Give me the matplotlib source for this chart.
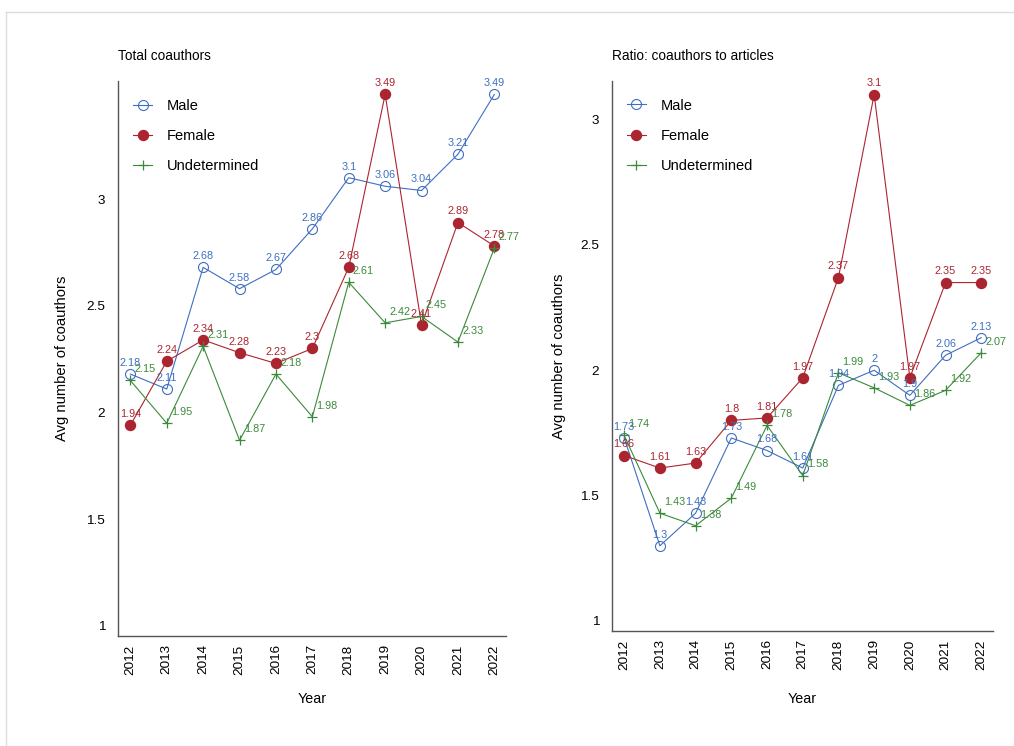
import matplotlib
matplotlib.use("Agg")
import matplotlib.pyplot as plt
from matplotlib.lines import Line2D

plt.rcParams['font.family'] = ['Liberation Sans', 'DejaVu Sans']

years = [2012, 2013, 2014, 2015, 2016, 2017, 2018, 2019, 2020, 2021, 2022]

# Panel 1: Total coauthors
total_male = [2.18, 2.11, 2.68, 2.58, 2.67, 2.86, 3.1, 3.06, 3.04, 3.21, 3.49]
total_female = [1.94, 2.24, 2.34, 2.28, 2.23, 2.3, 2.68, 3.49, 2.41, 2.89, 2.78]
total_undet = [2.15, 1.95, 2.31, 1.87, 2.18, 1.98, 2.61, 2.42, 2.45, 2.33, 2.77]

# Panel 2: Ratio coauthors to articles
ratio_male = [1.73, 1.3, 1.43, 1.73, 1.68, 1.61, 1.94, 2, 1.9, 2.06, 2.13]
ratio_female = [1.66, 1.61, 1.63, 1.8, 1.81, 1.97, 2.37, 3.1, 1.97, 2.35, 2.35]
ratio_undet = [1.74, 1.43, 1.38, 1.49, 1.78, 1.58, 1.99, 1.93, 1.86, 1.92, 2.07]

yticks = [1, 1.5, 2, 2.5, 3]
ytick_labels = ["1", "1.5", "2", "2.5", "3"]
series_names = ["Male", "Female", "Undetermined"]
titles = ["Total coauthors", "Ratio: coauthors to articles"]

C_MALE = '#3e6fc1'
C_FEMALE = '#ab2530'
C_UNDET = '#3b8a3b'

W, H = 1014, 746
fig = plt.figure(figsize=(W / 100, H / 100), dpi=100)
fig.patch.set_facecolor('white')

# faint frame of the screenshot
fig.add_artist(Line2D([6 / W, 1], [1 - 12 / H, 1 - 12 / H], color='#dcdcdc', lw=1))
fig.add_artist(Line2D([6 / W, 6 / W], [0, 1 - 12 / H], color='#dcdcdc', lw=1))


def px_axes(x0, x1, ytop, ybot):
    return fig.add_axes([x0 / W, 1 - ybot / H, (x1 - x0) / W, (ybot - ytop) / H])


ax1 = px_axes(117.6, 506, 81, 636)
ax2 = px_axes(611.7, 992.7, 81, 631)

panels = [
    (ax1, total_male, total_female, total_undet, (0.953, 3.553), (-0.124, -0.101)),
    (ax2, ratio_male, ratio_female, ratio_undet, (0.96, 3.154), (-0.121, -0.111)),
]

for i, (ax, m, f, u, ylim, lab) in enumerate(panels):
    ax.plot(years, m, color=C_MALE, lw=0.8, marker='o', ms=7.2,
            mfc='none', mec=C_MALE, mew=0.8, label=series_names[0], zorder=3)
    ax.plot(years, f, color=C_FEMALE, lw=0.8, marker='o', ms=7.2,
            mfc=C_FEMALE, mec=C_FEMALE, label=series_names[1], zorder=3)
    ax.plot(years, u, color=C_UNDET, lw=0.8, marker='+', ms=7.5,
            mec=C_UNDET, mew=0.9, label=series_names[2], zorder=3)

    for x, y in zip(years, m):
        ax.annotate(f"{y:g}", (x, y), xytext=(0, 8), textcoords='offset points',
                    ha='center', va='center', fontsize=7.8, color=C_MALE, zorder=4)
    for x, y in zip(years, f):
        ax.annotate(f"{y:g}", (x, y), xytext=(0, 8), textcoords='offset points',
                    ha='center', va='center', fontsize=7.8, color=C_FEMALE, zorder=4)
    for x, y in zip(years, u):
        ax.annotate(f"{y:g}", (x, y), xytext=(3, 8), textcoords='offset points',
                    ha='left', va='center', fontsize=7.8, color=C_UNDET, zorder=4)

    ax.set_xlim(2011.65, 2022.32)
    ax.set_ylim(*ylim)
    ax.set_xticks(years)
    ax.set_xticklabels([str(y) for y in years], rotation=90, fontsize=9.7)
    ax.set_yticks(yticks)
    ax.set_yticklabels(ytick_labels, fontsize=9.7)
    ax.tick_params(axis='both', length=0)
    ax.tick_params(axis='y', pad=9)
    ax.tick_params(axis='x', pad=6)
    for s in ['top', 'right']:
        ax.spines[s].set_visible(False)
    for s in ['left', 'bottom']:
        ax.spines[s].set_color('#555555')
        ax.spines[s].set_linewidth(1.0)

    ax.set_ylabel("Avg number of coauthors", fontsize=10.6)
    ax.yaxis.set_label_coords(lab[0], 0.5)
    ax.set_xlabel("Year", fontsize=10.3)
    ax.xaxis.set_label_coords(0.5, lab[1])

    ax.text(0.0, 1.045, titles[i], transform=ax.transAxes, ha='left',
            va='center', fontsize=9.8)

    ax.legend(loc='upper left', bbox_to_anchor=(0.04, 0.968), frameon=False,
              fontsize=10.5, handlelength=1.3, handletextpad=1.0,
              labelspacing=1.1, borderpad=0, borderaxespad=0)

fig.savefig("out.png", dpi=100)
